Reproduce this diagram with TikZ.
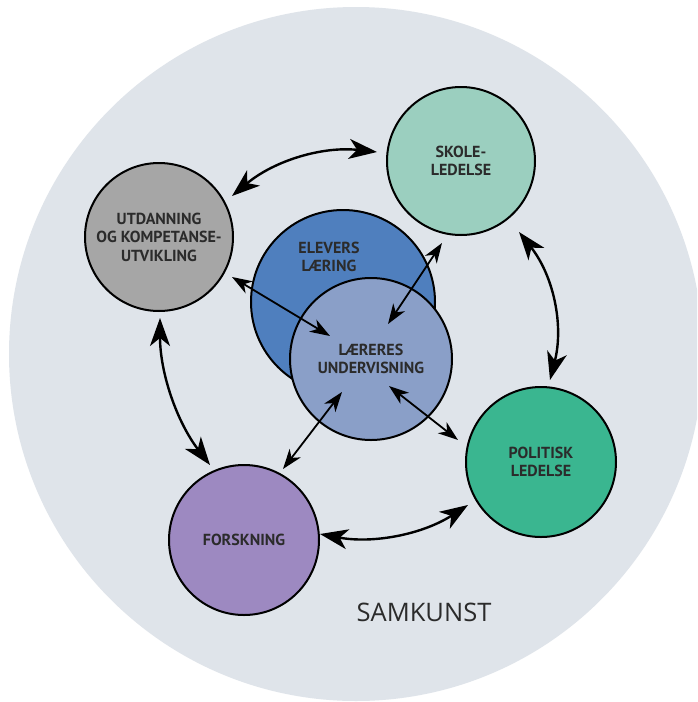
\documentclass[tikz,border=0pt]{standalone}
\usepackage{fontspec}
\setmainfont{Open Sans}
\newfontfamily\lblfont{PT Sans}
\usetikzlibrary{arrows.meta}

\definecolor{bgdisc}{HTML}{DFE4EA}
\definecolor{cskole}{HTML}{9BCFBF}
\definecolor{cutd}{HTML}{A6A6A6}
\definecolor{celev}{HTML}{4F7FBE}
\definecolor{claer}{HTML}{8A9FC8}
\definecolor{cpol}{HTML}{3AB690}
\definecolor{cforsk}{HTML}{9D89C1}
\definecolor{ctext}{HTML}{2B2B2B}

\tikzset{
  lbl/.style={text=ctext, align=center,
    font=\lblfont\bfseries\fontsize{16}{18.5}\selectfont},
  disc/.style={circle, draw=black, line width=2pt, inner sep=0pt,
    minimum size=#1, lbl},
  bigarrow/.style={line width=2.4pt, black,
    {Stealth[length=28pt,width=20pt,inset=8pt]}-{Stealth[length=28pt,width=20pt,inset=8pt]}},
  smallarrow/.style={line width=1.8pt, black,
    {Stealth[length=20pt,width=14pt,inset=6pt]}-{Stealth[length=20pt,width=14pt,inset=6pt]}}
}

\begin{document}
\begin{tikzpicture}[x=1pt,y=-1pt]
\useasboundingbox (0,0) rectangle (697,702);
\fill[white] (0,0) rectangle (697,702);
\begin{scope}
  \clip (0,0) rectangle (697,702);
  \fill[bgdisc] (356,354) circle (347);
\end{scope}

% centre pair
\node[disc=184pt, fill=celev] (elev) at (343,302) {};
\node[lbl] (elevtxt) at (329,257) {ELEVERS\\LÆRING};
\node[disc=162pt, fill=claer] (laer) at (371,359) {LÆRERES\\UNDERVISNING};

% outer ring
\node[disc=148pt, fill=cskole] (skole) at (461,161) {SKOLE-\\LEDELSE};
\node[disc=148pt, fill=cutd] (utd) at (159,237) {UTDANNING\\OG KOMPETANSE-\\UTVIKLING};
\node[disc=150pt, fill=cpol] (pol) at (541,462) {POLITISK\\LEDELSE};
\node[disc=150pt, fill=cforsk] (forsk) at (244,540) {FORSKNING};

\node[text=ctext, font=\fontsize{25.5}{30}\selectfont] (samk) at (424,612) {SAMKUNST};

% arrow end points
\coordinate (skW) at (377,152);
\coordinate (utNE) at (232,196);
\coordinate (skS) at (519,232);
\coordinate (polN) at (550,380);
\coordinate (polW) at (468,505);
\coordinate (foE) at (320,534);
\coordinate (foN) at (210,465);
\coordinate (utS) at (160,318);
\coordinate (utSE) at (232,277);
\coordinate (laNW) at (330,336);
\coordinate (skSW) at (442,243);
\coordinate (laNE) at (388,324);
\coordinate (laSE) at (389,386);
\coordinate (polNW) at (458,440);
\coordinate (laSW) at (342,392);
\coordinate (foNE) at (283,469);

% curved arrows around the ring
\draw[bigarrow] (utNE) .. controls (274,160.7) and (322.3,146) .. (skW);
\draw[bigarrow] (skS) .. controls (553.7,276) and (564,325.3) .. (polN);
\draw[bigarrow] (foE) .. controls (373.3,544) and (422.7,534.3) .. (polW);
\draw[bigarrow] (utS) .. controls (160,372.7) and (176.7,421.7) .. (foN);

% straight arrows to the centre
\draw[smallarrow] (utSE) -- (laNW);
\draw[smallarrow] (skSW) -- (laNE);
\draw[smallarrow] (laSE) -- (polNW);
\draw[smallarrow] (laSW) -- (foNE);
\end{tikzpicture}
\end{document}
